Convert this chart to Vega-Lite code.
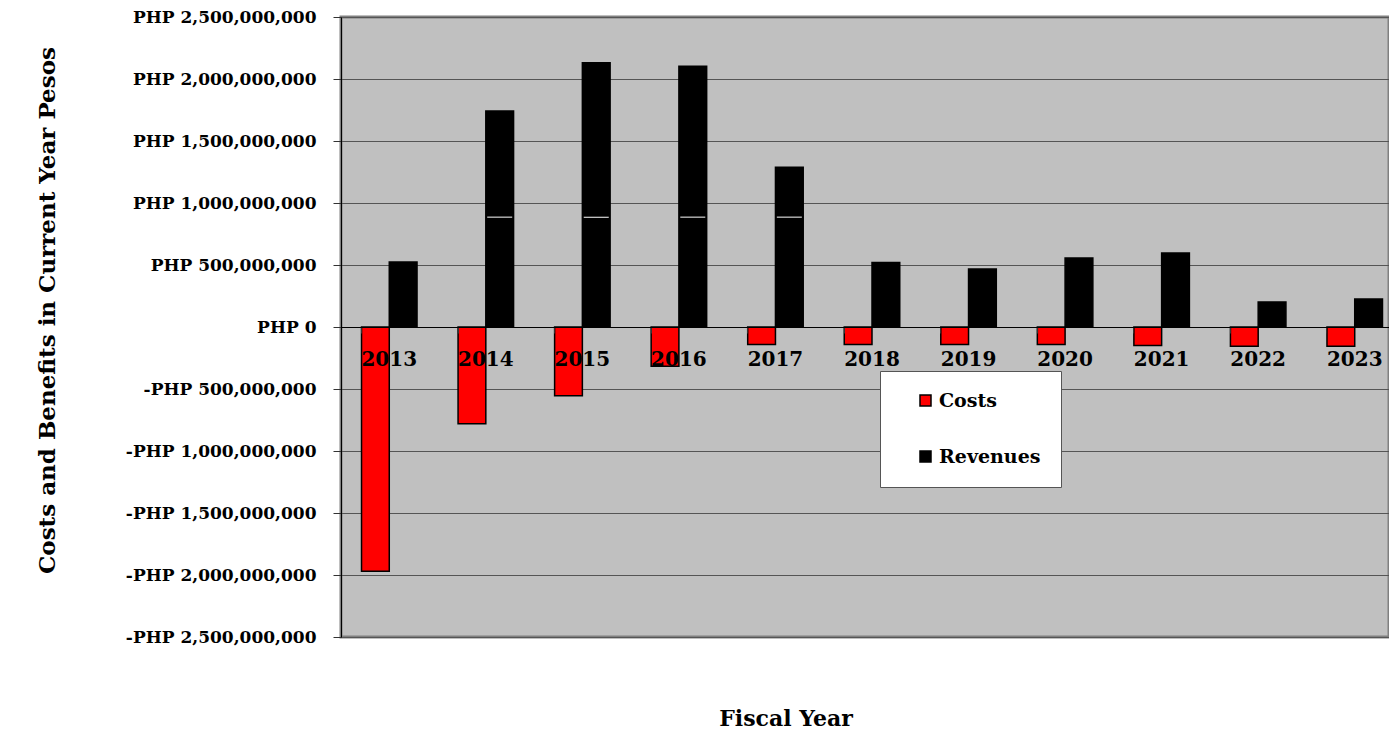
{
  "$schema": "https://vega.github.io/schema/vega-lite/v6.json",
  "width": 1048,
  "height": 620,
  "autosize": "none",
  "padding": {"left": 341, "top": 17, "right": 0, "bottom": 98},
  "background": "white",
  "config": {
    "view": {"fill": "#C0C0C0", "stroke": "#808080", "strokeWidth": 3},
    "font": "DejaVu Serif",
    "legend": {
      "orient": "none",
      "legendX": 539,
      "legendY": 354,
      "fillColor": "white",
      "strokeColor": "#555555",
      "padding": 20,
      "rowPadding": 36,
      "symbolType": "square",
      "symbolSize": 121,
      "symbolOffset": 16,
      "symbolStrokeColor": "black",
      "symbolStrokeWidth": 1.5,
      "labelFont": "DejaVu Serif",
      "labelFontWeight": "bold",
      "labelFontSize": 19,
      "labelColor": "black",
      "labelOffset": 4
    }
  },
  "title": {
    "text": "Fiscal Year",
    "orient": "bottom",
    "anchor": "middle",
    "dx": -79,
    "offset": 64,
    "font": "DejaVu Serif",
    "fontSize": 22,
    "fontWeight": "bold",
    "color": "black"
  },
  "datasets": {
    "flows": [
      {"year": "2013", "series": "Costs", "amount": -1969000000},
      {"year": "2013", "series": "Revenues", "amount": 524000000},
      {"year": "2014", "series": "Costs", "amount": -781000000},
      {"year": "2014", "series": "Revenues", "amount": 1742000000},
      {"year": "2015", "series": "Costs", "amount": -555000000},
      {"year": "2015", "series": "Revenues", "amount": 2131000000},
      {"year": "2016", "series": "Costs", "amount": -316000000},
      {"year": "2016", "series": "Revenues", "amount": 2102000000},
      {"year": "2017", "series": "Costs", "amount": -142000000},
      {"year": "2017", "series": "Revenues", "amount": 1289000000},
      {"year": "2018", "series": "Costs", "amount": -142000000},
      {"year": "2018", "series": "Revenues", "amount": 521000000},
      {"year": "2019", "series": "Costs", "amount": -142000000},
      {"year": "2019", "series": "Revenues", "amount": 468000000},
      {"year": "2020", "series": "Costs", "amount": -142000000},
      {"year": "2020", "series": "Revenues", "amount": 556000000},
      {"year": "2021", "series": "Costs", "amount": -150000000},
      {"year": "2021", "series": "Revenues", "amount": 597000000},
      {"year": "2022", "series": "Costs", "amount": -155000000},
      {"year": "2022", "series": "Revenues", "amount": 202000000},
      {"year": "2023", "series": "Costs", "amount": -155000000},
      {"year": "2023", "series": "Revenues", "amount": 226000000}
    ],
    "seams": [
      {"year": "2014", "series": "Revenues", "amount": 886000000},
      {"year": "2015", "series": "Revenues", "amount": 886000000},
      {"year": "2016", "series": "Revenues", "amount": 886000000},
      {"year": "2017", "series": "Revenues", "amount": 886000000}
    ]
  },
  "layer": [
    {
      "data": {"name": "flows"},
      "mark": {"type": "bar", "stroke": "black", "strokeWidth": 1.5},
      "encoding": {
        "x": {
          "field": "year",
          "type": "ordinal",
          "scale": {"range": [0, 1062], "paddingInner": 0.425, "paddingOuter": 0.2125},
          "axis": {
            "title": null,
            "offset": -310,
            "bandPosition": 0,
            "labelAngle": 0,
            "labelFont": "DejaVu Serif",
            "labelFontWeight": "bold",
            "labelFontSize": 20,
            "labelColor": "black",
            "labelPadding": 16,
            "tickSize": 6,
            "tickColor": "#333333",
            "domainColor": "black",
            "grid": false,
            "zindex": 1
          }
        },
        "xOffset": {"field": "series", "type": "nominal", "sort": ["Costs", "Revenues"]},
        "y": {
          "field": "amount",
          "type": "quantitative",
          "scale": {"domain": [-2500000000, 2500000000], "nice": false},
          "axis": {
            "values": [-2500000000, -2000000000, -1500000000, -1000000000, -500000000, 0, 500000000, 1000000000, 1500000000, 2000000000, 2500000000],
            "labelExpr": "(datum.value < 0 ? '-' : '') + 'PHP ' + format(abs(datum.value), ',')",
            "labelFont": "DejaVu Serif",
            "labelFontWeight": "bold",
            "labelFontSize": 17,
            "labelLimit": 400,
            "labelColor": "black",
            "labelPadding": 17,
            "tickSize": 8,
            "tickColor": "#333333",
            "domainColor": "black",
            "grid": true,
            "gridColor": "#555555",
            "gridWidth": 1,
            "title": "Costs and Benefits in Current Year Pesos",
            "titleFont": "DejaVu Serif",
            "titleFontWeight": "bold",
            "titleFontSize": 23,
            "titleColor": "black",
            "titleLimit": 700,
            "titleX": -294,
            "titleY": 293,
            "titleAngle": -90,
            "titleAlign": "center",
            "titleBaseline": "middle"
          }
        },
        "color": {
          "field": "series",
          "type": "nominal",
          "scale": {"domain": ["Costs", "Revenues"], "range": ["#FF0000", "#000000"]},
          "legend": {"title": null}
        }
      }
    },
    {
      "data": {"name": "seams"},
      "mark": {"type": "tick", "color": "white", "thickness": 1, "size": 25, "opacity": 1},
      "encoding": {
        "x": {"field": "year", "type": "ordinal"},
        "xOffset": {"field": "series", "type": "nominal"},
        "y": {"field": "amount", "type": "quantitative"}
      }
    }
  ]
}
